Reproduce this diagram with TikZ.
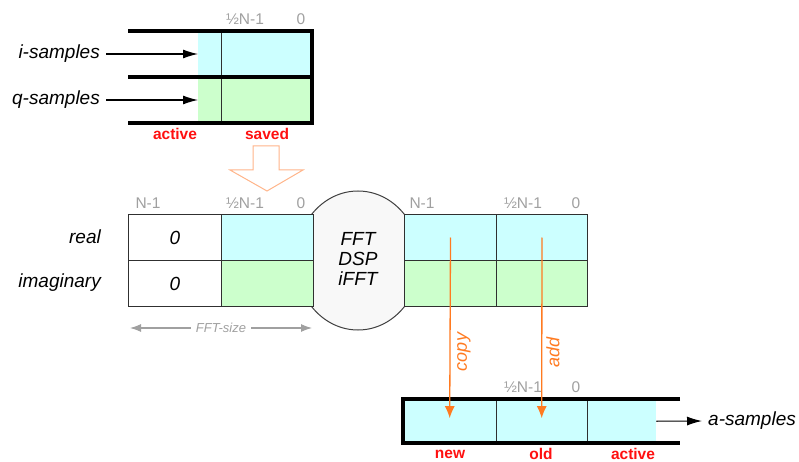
\documentclass[tikz,border=0pt]{standalone}
\usepackage{fontspec}
\setmainfont{Liberation Sans}
\usetikzlibrary{arrows.meta,shapes.geometric}
\definecolor{cyanf}{HTML}{CCFFFF}
\definecolor{greenf}{HTML}{CCFFCC}
\definecolor{idxgray}{HTML}{A0A0A0}
\definecolor{redlab}{HTML}{FF1010}
\definecolor{orangeA}{HTML}{FF7A20}
\definecolor{orangeL}{HTML}{FFB58A}
\definecolor{cellline}{HTML}{303030}
\definecolor{ellfill}{HTML}{F8F8F8}
\definecolor{ellline}{HTML}{404040}
\tikzset{
  cell/.style={draw=cellline, line width=1pt, inner sep=0pt, anchor=north west,
    minimum height=46pt, font=\fontsize{19}{21}\selectfont\itshape},
  bigtxt/.style={font=\fontsize{19}{21}\selectfont\itshape, inner sep=0pt},
  idx/.style={text=idxgray, font=\fontsize{15.5}{17}\selectfont, inner sep=0pt},
  redl/.style={text=redlab, font=\fontsize{15.5}{17}\selectfont\bfseries, inner sep=0pt},
  thickbuf/.style={line width=3.5pt, black},
  thinline/.style={line width=0.8pt, cellline},
  blackarr/.style={line width=1.1pt, -{Latex[length=15pt,width=9pt]}},
  orarr/.style={line width=1.3pt, orangeA, -{Latex[length=12pt,width=10pt]}},
  orlab/.style={text=orangeA, font=\fontsize{18}{20}\selectfont\itshape, inner sep=0pt, rotate=90},
}
\begin{document}
\begin{tikzpicture}[x=1pt,y=-1pt]
\useasboundingbox (0,0) rectangle (799,462);

% ---------- top buffer ----------
\fill[cyanf] (198,31) rectangle (312,77);
\fill[greenf] (198,77) rectangle (312,123);
\draw[thinline] (221,31) -- (221,123);
\draw[thickbuf] (128,31) -- (312,31) -- (312,123) -- (128,123);
\draw[thickbuf] (128,77) -- (312,77);
\node[idx] (tI) at (245,19) {½N-1};
\node[idx] (tZ) at (301,19) {0};
\node[bigtxt, anchor=east] (isam) at (100,54) {i-samples};
\node[bigtxt, anchor=east] (qsam) at (100,100) {q-samples};
\coordinate (iend) at (198,54);
\coordinate (qend) at (198,100);
\draw[blackarr] (isam.east) ++(6,0) coordinate (istart) (istart) -- (iend);
\draw[blackarr] (qsam.east) ++(6,0) coordinate (qstart) (qstart) -- (qend);
\node[redl] (act1) at (175,134) {active};
\node[redl] (sav1) at (267,134) {saved};

% hollow arrow
\draw[orangeL, line width=1pt, fill=white, line join=miter]
  (253,146) -- (279,146) -- (279,170) -- (303,170) -- (267,191) -- (230,170) -- (253,170) -- cycle;

% DSP shape (behind the cells)
\node[ellipse, draw=ellline, fill=ellfill, line width=1pt, inner sep=0pt,
  minimum width=124pt, minimum height=139pt] (dspshape) at (358,260.5) {};
\node[bigtxt, align=center] (dsp) at (358,259)
  {FFT\\[-1pt]DSP\\[-1pt]iFFT};

% ---------- middle buffers ----------
\node[cell, fill=white, minimum width=93pt] (mL0r) at (128,214) {0};
\node[cell, fill=cyanf, minimum width=92pt] (mL1r) at (221,214) {};
\node[cell, fill=white, minimum width=93pt] (mL0i) at (128,260) {0};
\node[cell, fill=greenf, minimum width=92pt] (mL1i) at (221,260) {};

\node[cell, fill=cyanf, minimum width=92pt] (mR0r) at (404,214) {};
\node[cell, fill=cyanf, minimum width=91pt] (mR1r) at (496,214) {};
\node[cell, fill=greenf, minimum width=92pt] (mR0i) at (404,260) {};
\node[cell, fill=greenf, minimum width=91pt] (mR1i) at (496,260) {};

\node[idx] (mLa) at (148,203) {N-1};
\node[idx] (mLb) at (245,203) {½N-1};
\node[idx] (mLc) at (301,203) {0};
\node[idx] (mRa) at (422,203) {N-1};
\node[idx] (mRb) at (523,203) {½N-1};
\node[idx] (mRc) at (576,203) {0};

\node[bigtxt, anchor=east] (real) at (101,237) {real};
\node[bigtxt, anchor=east] (imag) at (101,283) {imaginary};

% FFT-size
\coordinate (fsL) at (130,328);
\coordinate (fsR) at (312,328);
\draw[idxgray, line width=1.1pt, {Latex[length=11pt,width=8pt]}-{Latex[length=11pt,width=8pt]}]
  (fsL) -- node[fill=white, inner sep=5pt, text=idxgray, font=\fontsize{13}{15}\selectfont\itshape] (fss) {FFT-size} (fsR);

% ---------- bottom buffer ----------
\fill[cyanf] (403,399) rectangle (656,443);
\node[inner sep=0pt, minimum width=93pt, minimum height=44pt, anchor=north west] (bN) at (403,399) {};
\node[inner sep=0pt, minimum width=91pt, minimum height=44pt, anchor=north west] (bO) at (496,399) {};
\node[inner sep=0pt, minimum width=69pt, minimum height=44pt, anchor=north west] (bA) at (587,399) {};
\draw[thinline] (496,399) -- (496,443) (587,399) -- (587,443);
\draw[thickbuf] (680,399) -- (403,399) -- (403,443) -- (680,443);
\node[idx] (bI) at (523,387) {½N-1};
\node[idx] (bZ) at (576,387) {0};
\node[bigtxt, anchor=west] (asam) at (708,421) {a-samples};
\draw[blackarr] (bA.east) -- ([xshift=-6pt]asam.west);
\node[redl] (new) at (450,454) {new};
\node[redl] (old) at (541,454) {old};
\node[redl] (act2) at (633,454) {active};

% orange arrows
\draw[orarr] (mR0r.center) -- ([yshift=3pt]bN.center);
\draw[orarr] (mR1r.center) -- ([yshift=3pt]bO.center);
\node[orlab] (copy) at (464,352) {copy};
\node[orlab] (add) at (553,352) {add};
\end{tikzpicture}
\end{document}
